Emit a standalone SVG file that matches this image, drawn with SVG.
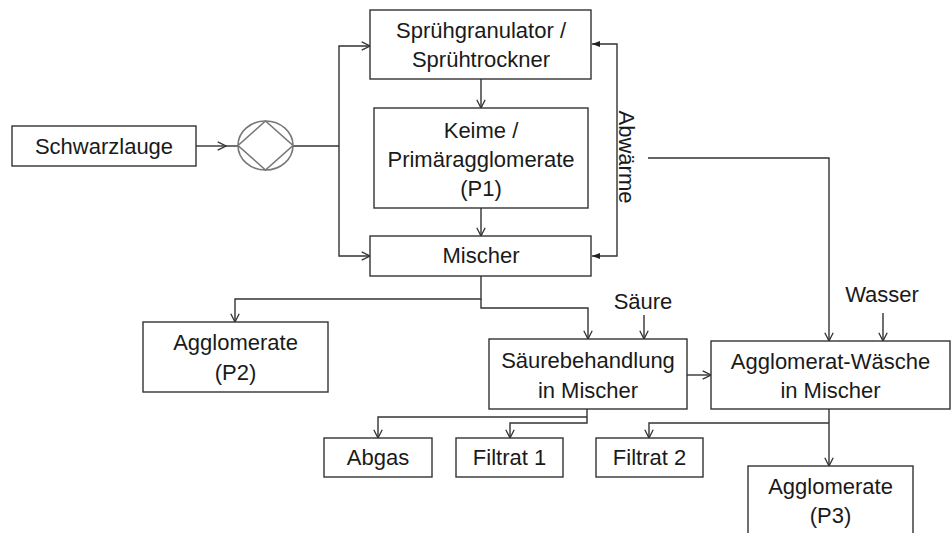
<svg xmlns="http://www.w3.org/2000/svg" width="952" height="533" viewBox="0 0 952 533">
<style>
.box{fill:#fff;stroke:#333;stroke-width:1.4}
.t{font-family:"Liberation Sans",Arial,sans-serif;font-size:22px;fill:#1a1a1a;text-anchor:middle}
.c{fill:none;stroke:#333;stroke-width:1.4}
.ca{fill:none;stroke:#333;stroke-width:1.4;marker-end:url(#a)}
.cf{fill:none;stroke:#333;stroke-width:1.4;marker-end:url(#f)}
</style>
<defs>
<marker id="a" viewBox="0 0 10 10" refX="9.3" refY="5" markerWidth="10" markerHeight="10" markerUnits="userSpaceOnUse" orient="auto">
<path d="M1,0.8 L9.3,5 L1,9.2" fill="none" stroke="#333" stroke-width="1.3"/>
</marker>
<marker id="f" viewBox="0 0 8 8" refX="8" refY="4" markerWidth="8" markerHeight="8" markerUnits="userSpaceOnUse" orient="auto">
<path d="M0,1 L8,4 L0,7 z" fill="#222"/>
</marker>
</defs>
<rect width="952" height="533" fill="#fff"/>

<g id="connectors">
<path class="ca" d="M196,146 H226"/>
<path class="c" d="M225,146 H238"/>
<path class="c" d="M293,146 H339"/>
<path class="ca" d="M339,146 V46 H370"/>
<path class="ca" d="M339,146 V256 H370"/>
<path class="ca" d="M481,79 V108"/>
<path class="ca" d="M481,208 V236"/>
<path class="cf" d="M617,150 V44 H592"/>
<path class="cf" d="M617,150 V256 H592"/>
<path class="ca" d="M648,158 H829 V341"/>
<path class="ca" d="M883,313 V341"/>
<path class="ca" d="M481,276 V299 H235 V322"/>
<path class="ca" d="M481,299 V308 H588 V339"/>
<path class="ca" d="M644,315 V339"/>
<path class="ca" d="M687,375 H711"/>
<path class="ca" d="M587,409 V423 H510 V438"/>
<path class="ca" d="M587,417 H378 V438"/>
<path class="ca" d="M829,409 V466"/>
<path class="ca" d="M829,423 H649 V438"/>
</g>

<g id="schwarzlauge">
<rect class="box" x="12" y="126" width="184" height="40"/>
<text class="t" x="104" y="154">Schwarzlauge</text>
</g>

<g id="pumpe">
<ellipse cx="265.5" cy="145.5" rx="27.5" ry="24.5" fill="#fff" stroke="#777" stroke-width="1.6"/>
<polygon points="238,145.5 265.5,121 293,145.5 265.5,170" fill="none" stroke="#777" stroke-width="1.6"/>
</g>

<g id="spruehgranulator">
<rect class="box" x="370" y="10" width="221" height="69"/>
<text class="t" x="481" y="38">Sprühgranulator /</text>
<text class="t" x="481" y="67">Sprühtrockner</text>
</g>

<g id="keime">
<rect class="box" x="374" y="108" width="214" height="100"/>
<text class="t" x="481" y="138">Keime /</text>
<text class="t" x="481" y="167">Primäragglomerate</text>
<text class="t" x="481" y="196">(P1)</text>
</g>

<g id="mischer">
<rect class="box" x="370" y="236" width="221" height="40"/>
<text class="t" x="481" y="263">Mischer</text>
</g>

<g id="abwaerme">
<text class="t" transform="translate(619,157) rotate(90)">Abwärme</text>
</g>

<g id="agglomerate-p2">
<rect class="box" x="143" y="322" width="185" height="70"/>
<text class="t" x="235.5" y="350">Agglomerate</text>
<text class="t" x="235.5" y="380">(P2)</text>
</g>

<g id="saeure">
<text class="t" x="643" y="309">Säure</text>
</g>

<g id="wasser">
<text class="t" x="882" y="302">Wasser</text>
</g>

<g id="saeurebehandlung">
<rect class="box" x="489" y="339" width="198" height="70"/>
<text class="t" x="588" y="368">Säurebehandlung</text>
<text class="t" x="588" y="398">in Mischer</text>
</g>

<g id="agglomerat-waesche">
<rect class="box" x="711" y="341" width="239" height="68"/>
<text class="t" x="830.5" y="369">Agglomerat-Wäsche</text>
<text class="t" x="830.5" y="398">in Mischer</text>
</g>

<g id="abgas">
<rect class="box" x="324" y="438" width="108" height="39"/>
<text class="t" x="378" y="465">Abgas</text>
</g>

<g id="filtrat1">
<rect class="box" x="456" y="438" width="107" height="39"/>
<text class="t" x="509.5" y="465">Filtrat 1</text>
</g>

<g id="filtrat2">
<rect class="box" x="596" y="438" width="107" height="39"/>
<text class="t" x="649.5" y="465">Filtrat 2</text>
</g>

<g id="agglomerate-p3">
<rect class="box" x="748" y="466" width="165" height="80"/>
<text class="t" x="830.5" y="494">Agglomerate</text>
<text class="t" x="830.5" y="523">(P3)</text>
</g>
</svg>
